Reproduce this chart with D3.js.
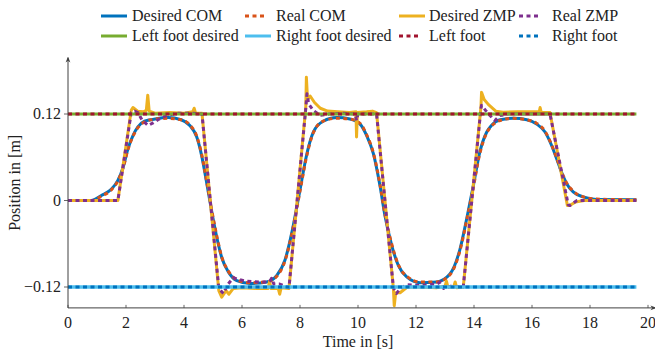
<!DOCTYPE html>
<html>
<head>
<meta charset="utf-8">
<script src="https://cdn.jsdelivr.net/npm/d3@7"></script>
<style>
  body { margin: 0; background: #fff; }
  svg { display: block; font-family: "Liberation Serif", "Times New Roman", serif; }
</style>
</head>
<body>
<svg id="fig" width="655" height="354"></svg>
<script>
// [time s, position m]
const desiredCom = [[0,0],[0.8,0],[1.15,0.007],[1.5,0.016],[1.72,0.028],[1.9,0.046],[2.07,0.072],[2.24,0.09],[2.41,0.102],[2.64,0.11],[3.0,0.113],[3.45,0.115],[3.9,0.112],[4.2,0.104],[4.44,0.088],[4.61,0.062],[4.78,0.025],[4.95,-0.014],[5.13,-0.051],[5.3,-0.079],[5.53,-0.099],[5.82,-0.111],[6.28,-0.115],[6.85,-0.113],[7.2,-0.104],[7.48,-0.083],[7.71,-0.046],[7.89,-0.009],[8.06,0.028],[8.2,0.058],[8.46,0.095],[8.8,0.11],[9.27,0.115],[9.72,0.113],[10.07,0.106],[10.3,0.09],[10.53,0.065],[10.76,0.02],[10.93,-0.021],[11.16,-0.062],[11.39,-0.09],[11.68,-0.106],[12.14,-0.114],[12.71,-0.113],[13.17,-0.102],[13.52,-0.067],[13.75,-0.025],[13.98,0.021],[14.2,0.067],[14.44,0.095],[14.6,0.104],[14.9,0.112],[15.36,0.114],[15.82,0.112],[16.16,0.106],[16.45,0.095],[16.68,0.076],[16.85,0.058],[17.02,0.039],[17.2,0.023],[17.42,0.012],[17.77,0.005],[18.23,0.0015],[19.6,0.001]];

const realCom = [[0,0],[0.8,0],[1.15,0.006],[1.5,0.015],[1.72,0.027],[1.9,0.045],[2.07,0.071],[2.24,0.089],[2.41,0.101],[2.64,0.109],[3.0,0.113],[3.45,0.114],[3.9,0.112],[4.2,0.105],[4.44,0.089],[4.61,0.064],[4.78,0.027],[4.95,-0.012],[5.13,-0.049],[5.3,-0.078],[5.53,-0.098],[5.82,-0.11],[6.28,-0.114],[6.85,-0.113],[7.2,-0.105],[7.48,-0.084],[7.71,-0.048],[7.89,-0.011],[8.06,0.026],[8.2,0.056],[8.46,0.094],[8.8,0.11],[9.27,0.114],[9.72,0.113],[10.07,0.107],[10.3,0.091],[10.53,0.066],[10.76,0.022],[10.93,-0.019],[11.16,-0.06],[11.39,-0.089],[11.68,-0.105],[12.14,-0.113],[12.71,-0.113],[13.17,-0.103],[13.52,-0.069],[13.75,-0.027],[13.98,0.019],[14.2,0.065],[14.44,0.094],[14.6,0.103],[14.9,0.111],[15.36,0.114],[15.82,0.112],[16.16,0.107],[16.45,0.096],[16.68,0.077],[16.85,0.059],[17.02,0.04],[17.2,0.024],[17.42,0.013],[17.77,0.005],[18.23,0.002],[19.6,0.001]];

const desiredZmp = [[0,0],[1.72,0],[2.18,0.125],[2.24,0.129],[2.4,0.124],[2.6,0.123],[2.7,0.125],[2.75,0.146],[2.8,0.124],[3.0,0.121],[3.5,0.122],[4.0,0.121],[4.3,0.123],[4.35,0.128],[4.4,0.121],[4.62,0.121],[5.2,-0.125],[5.3,-0.134],[5.45,-0.125],[5.55,-0.13],[5.7,-0.122],[6.0,-0.121],[6.5,-0.122],[6.9,-0.122],[6.95,-0.112],[7.0,-0.122],[7.25,-0.122],[7.3,-0.13],[7.35,-0.121],[7.62,-0.122],[8.2,0.13],[8.22,0.171],[8.26,0.14],[8.35,0.145],[8.5,0.136],[8.7,0.128],[8.95,0.124],[9.3,0.123],[9.7,0.122],[9.93,0.123],[9.95,0.088],[9.98,0.122],[10.3,0.123],[10.5,0.124],[10.64,0.122],[11.22,-0.122],[11.25,-0.146],[11.3,-0.128],[11.45,-0.128],[11.7,-0.12],[12.2,-0.12],[12.7,-0.121],[13.0,-0.119],[13.05,-0.112],[13.1,-0.12],[13.3,-0.12],[13.35,-0.113],[13.4,-0.121],[13.63,-0.12],[14.24,0.13],[14.26,0.15],[14.35,0.14],[14.5,0.133],[14.75,0.124],[15.0,0.1225],[15.5,0.123],[16.0,0.123],[16.25,0.123],[16.28,0.129],[16.32,0.122],[16.62,0.122],[17.22,-0.007],[17.3,-0.007],[17.5,-0.002],[17.8,0],[19.6,0]];

const realZmp = [[0,0],[1.72,0],[2.18,0.122],[2.3,0.124],[2.41,0.122],[2.55,0.112],[2.76,0.104],[2.95,0.108],[3.1,0.112],[3.4,0.118],[3.8,0.121],[4.3,0.121],[4.62,0.12],[5.2,-0.122],[5.36,-0.129],[5.5,-0.117],[5.7,-0.107],[5.82,-0.109],[6.16,-0.112],[6.6,-0.113],[6.95,-0.113],[7.02,-0.108],[7.1,-0.116],[7.3,-0.116],[7.43,-0.118],[7.62,-0.121],[8.2,0.128],[8.24,0.148],[8.3,0.134],[8.46,0.125],[8.69,0.118],[9.0,0.12],[9.5,0.121],[9.9,0.12],[9.95,0.111],[10.0,0.12],[10.64,0.12],[11.22,-0.121],[11.33,-0.129],[11.45,-0.122],[11.7,-0.117],[12.2,-0.118],[12.7,-0.116],[12.85,-0.113],[12.95,-0.122],[13.2,-0.119],[13.63,-0.12],[14.24,0.128],[14.26,0.132],[14.4,0.125],[14.55,0.118],[14.72,0.111],[14.9,0.118],[15.2,0.12],[16.62,0.12],[17.25,-0.006],[17.31,-0.007],[17.55,0],[19.6,0]];

const leftFootDesired = [[0,0.12],[19.6,0.12]];
const rightFootDesired = [[0,-0.12],[19.6,-0.12]];
const leftFoot = [[0,0.12],[19.6,0.12]];
const rightFoot = [[0,-0.12],[19.6,-0.12]];

const seriesNames = ["Desired COM","Real COM","Desired ZMP","Real ZMP","Left foot desired","Right foot desired","Left foot","Right foot"];
const seriesColors = ["#0072BD","#D95319","#EDB120","#7E2F8E","#77AC30","#4DBEEE","#A2142F","#0072BD"];
const seriesDashed = [false,true,false,true,false,false,true,true];
const seriesSmooth = [true,true,false,false,false,false,false,false];
const seriesData = [desiredCom,realCom,desiredZmp,realZmp,leftFootDesired,rightFootDesired,leftFoot,rightFoot];

const xTicks = [0,2,4,6,8,10,12,14,16,18,20];
const yTicks = [-0.12,0,0.12];
const yTickLabels = ["\u22120.12","0","0.12"];

const Fig = d3.select("#fig");
const axisColor = "#404040";
const dash = "4,3.5";

const xScale = d3.scaleLinear().domain([0,20]).range([68,648]);
const yScale = d3.scaleLinear().domain([-0.12,0.12]).range([287,114]);
const yBottom = yScale(-0.149);
const yTop = yScale(0.198);
const xRight = xScale(20.25);

// series
const straight = d3.line()
    .x(d => xScale(d[0]))
    .y(d => yScale(d[1]));
const smooth = d3.line()
    .x(d => xScale(d[0]))
    .y(d => yScale(d[1]))
    .curve(d3.curveMonotoneX);

seriesData.forEach((data, i) => {
    Fig.append("path")
        .datum(data)
        .attr("d", seriesSmooth[i] ? smooth : straight)
        .attr("fill", "none")
        .attr("stroke", seriesColors[i])
        .attr("stroke-width", i === 5 ? 3.4 : 3)
        .attr("stroke-linejoin", "round")
        .attr("stroke-dasharray", seriesDashed[i] ? dash : null);
});

// axes
const defs = Fig.append("defs");
defs.append("marker")
    .attr("id", "arrow")
    .attr("viewBox", "0 0 10 10")
    .attr("refX", 8).attr("refY", 5)
    .attr("markerWidth", 6).attr("markerHeight", 6)
    .attr("orient", "auto")
    .append("path")
    .attr("d", "M0,1 L10,5 L0,9 L3,5 Z")
    .attr("fill", axisColor);

Fig.append("line")
    .attr("x1", xScale(0)).attr("y1", yBottom)
    .attr("x2", xRight).attr("y2", yBottom)
    .attr("stroke", axisColor).attr("stroke-width", 1)
    .attr("marker-end", "url(#arrow)");

Fig.append("line")
    .attr("x1", xScale(0)).attr("y1", yBottom)
    .attr("x2", xScale(0)).attr("y2", yTop)
    .attr("stroke", axisColor).attr("stroke-width", 1)
    .attr("marker-end", "url(#arrow)");

xTicks.forEach(t => {
    Fig.append("line")
        .attr("x1", xScale(t)).attr("x2", xScale(t))
        .attr("y1", yBottom).attr("y2", yBottom - 3)
        .attr("stroke", axisColor).attr("stroke-width", 0.8);
    Fig.append("text")
        .attr("x", xScale(t))
        .attr("y", yBottom + 20)
        .attr("text-anchor", "middle")
        .attr("fill", "#222")
        .style("font-size", "16px")
        .text(t);
});

yTicks.forEach((v, i) => {
    Fig.append("line")
        .attr("x1", xScale(0) - 4).attr("x2", xScale(0))
        .attr("y1", yScale(v)).attr("y2", yScale(v))
        .attr("stroke", axisColor).attr("stroke-width", 0.8);
    Fig.append("text")
        .attr("x", xScale(0) - 7)
        .attr("y", yScale(v) + 5)
        .attr("text-anchor", "end")
        .attr("fill", "#222")
        .style("font-size", "16px")
        .text(yTickLabels[i]);
});

// axis labels
Fig.append("text")
    .attr("x", (xScale(0) + xScale(20)) / 2)
    .attr("y", 347)
    .attr("text-anchor", "middle")
    .attr("fill", "#222")
    .style("font-size", "16px")
    .text("Time in [s]");

Fig.append("g")
    .attr("transform", `translate(${20},${(yBottom + yTop) / 2}) rotate(270)`)
    .append("text")
    .attr("text-anchor", "middle")
    .attr("fill", "#222")
    .style("font-size", "16px")
    .text("Position in [m]");

// legend
const legendLineX = [101, 245, 399, 519];
const legendTextX = [132, 276, 429, 552];
const legendRowY = [16, 36];

seriesNames.forEach((name, i) => {
    const col = i % 4, row = Math.floor(i / 4);
    const y = legendRowY[row];
    const x0 = legendLineX[col];
    Fig.append("line")
        .attr("x1", x0).attr("x2", x0 + (seriesDashed[i] ? 19 : 26))
        .attr("y1", y).attr("y2", y)
        .attr("stroke", seriesColors[i])
        .attr("stroke-width", 3)
        .attr("stroke-dasharray", seriesDashed[i] ? dash : null);
    Fig.append("text")
        .attr("x", legendTextX[col])
        .attr("y", y + 5)
        .attr("fill", "#222")
        .style("font-size", "16px")
        .text(name);
});
</script>
</body>
</html>
